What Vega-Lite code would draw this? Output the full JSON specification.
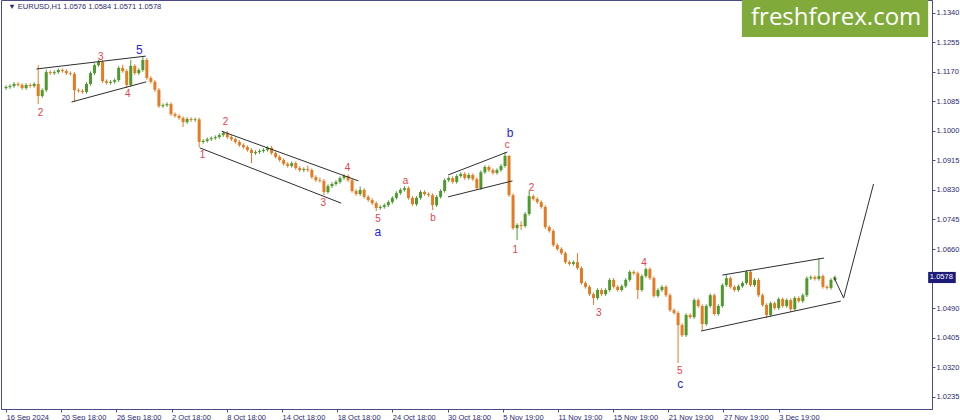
{
 "$schema": "https://vega.github.io/schema/vega-lite/v6.json",
 "width": 931, "height": 409,
 "autosize": {"type": "none"},
 "padding": {"left": 1, "top": 0, "right": 28, "bottom": 11},
 "background": "white",
 "config": {"view": {"stroke": "#4a4a86", "strokeWidth": 1}, "font": "Liberation Sans",
   "axis": {"labelOverlap": false, "labelBound": false, "labelFlush": false, "grid": false, "title": null,
     "labelFontSize": 7.5, "labelColor": "#2b2b70", "labelFont": "Liberation Sans", "tickSize": 3, "tickColor": "#4a4a86", "domainColor": "#4a4a86", "labelPadding": 1}},
 "resolve": {"axis": {"x": "independent", "y": "independent"}},
 "datasets": {
  "candles": [
{"t":0,"o":1.1123,"h":1.1131,"l":1.1118,"c":1.1126},
{"t":7,"o":1.1126,"h":1.1134,"l":1.1121,"c":1.1129},
{"t":14,"o":1.1129,"h":1.1140,"l":1.1124,"c":1.1135},
{"t":21,"o":1.1135,"h":1.1140,"l":1.1127,"c":1.1132},
{"t":28,"o":1.1132,"h":1.1137,"l":1.1118,"c":1.1123},
{"t":35,"o":1.1123,"h":1.1137,"l":1.1118,"c":1.1132},
{"t":42,"o":1.1132,"h":1.1137,"l":1.1124,"c":1.1129},
{"t":49,"o":1.1129,"h":1.1140,"l":1.1124,"c":1.1135},
{"t":56,"o":1.1135,"h":1.1189,"l":1.1077,"c":1.1100},
{"t":63,"o":1.1100,"h":1.1122,"l":1.1095,"c":1.1117},
{"t":70,"o":1.1117,"h":1.1176,"l":1.1112,"c":1.1169},
{"t":77,"o":1.1169,"h":1.1174,"l":1.1161,"c":1.1166},
{"t":84,"o":1.1166,"h":1.1174,"l":1.1161,"c":1.1169},
{"t":91,"o":1.1169,"h":1.1180,"l":1.1164,"c":1.1175},
{"t":98,"o":1.1175,"h":1.1180,"l":1.1167,"c":1.1172},
{"t":105,"o":1.1172,"h":1.1177,"l":1.1161,"c":1.1166},
{"t":112,"o":1.1166,"h":1.1171,"l":1.1159,"c":1.1164},
{"t":119,"o":1.1164,"h":1.1169,"l":1.1083,"c":1.1117},
{"t":126,"o":1.1117,"h":1.1122,"l":1.1110,"c":1.1115},
{"t":133,"o":1.1115,"h":1.1120,"l":1.1107,"c":1.1112},
{"t":140,"o":1.1112,"h":1.1140,"l":1.1107,"c":1.1135},
{"t":147,"o":1.1135,"h":1.1171,"l":1.1130,"c":1.1166},
{"t":154,"o":1.1166,"h":1.1194,"l":1.1161,"c":1.1189},
{"t":161,"o":1.1189,"h":1.1204,"l":1.1184,"c":1.1198},
{"t":168,"o":1.1198,"h":1.1203,"l":1.1138,"c":1.1143},
{"t":175,"o":1.1143,"h":1.1148,"l":1.1133,"c":1.1138},
{"t":182,"o":1.1138,"h":1.1146,"l":1.1133,"c":1.1141},
{"t":189,"o":1.1141,"h":1.1151,"l":1.1136,"c":1.1146},
{"t":196,"o":1.1146,"h":1.1186,"l":1.1141,"c":1.1181},
{"t":203,"o":1.1181,"h":1.1190,"l":1.1167,"c":1.1172},
{"t":210,"o":1.1172,"h":1.1177,"l":1.1123,"c":1.1132},
{"t":217,"o":1.1132,"h":1.1204,"l":1.1127,"c":1.1187},
{"t":224,"o":1.1187,"h":1.1192,"l":1.1161,"c":1.1166},
{"t":231,"o":1.1166,"h":1.1180,"l":1.1161,"c":1.1175},
{"t":238,"o":1.1175,"h":1.1215,"l":1.1170,"c":1.1204},
{"t":245,"o":1.1204,"h":1.1209,"l":1.1147,"c":1.1152},
{"t":252,"o":1.1152,"h":1.1157,"l":1.1136,"c":1.1141},
{"t":259,"o":1.1141,"h":1.1146,"l":1.1112,"c":1.1118},
{"t":266,"o":1.1118,"h":1.1123,"l":1.1066,"c":1.1071},
{"t":273,"o":1.1071,"h":1.1079,"l":1.1066,"c":1.1074},
{"t":280,"o":1.1074,"h":1.1082,"l":1.1069,"c":1.1077},
{"t":287,"o":1.1077,"h":1.1082,"l":1.1043,"c":1.1048},
{"t":294,"o":1.1048,"h":1.1053,"l":1.1038,"c":1.1043},
{"t":301,"o":1.1043,"h":1.1048,"l":1.1032,"c":1.1037},
{"t":308,"o":1.1037,"h":1.1042,"l":1.1011,"c":1.1025},
{"t":315,"o":1.1025,"h":1.1039,"l":1.1020,"c":1.1034},
{"t":322,"o":1.1034,"h":1.1039,"l":1.1026,"c":1.1031},
{"t":329,"o":1.1031,"h":1.1038,"l":1.1026,"c":1.1033},
{"t":336,"o":1.1033,"h":1.1038,"l":1.0953,"c":1.0968},
{"t":343,"o":1.0968,"h":1.0976,"l":1.0963,"c":1.0971},
{"t":350,"o":1.0971,"h":1.0981,"l":1.0966,"c":1.0976},
{"t":357,"o":1.0976,"h":1.0984,"l":1.0971,"c":1.0979},
{"t":364,"o":1.0979,"h":1.0987,"l":1.0974,"c":1.0982},
{"t":371,"o":1.0982,"h":1.0993,"l":1.0977,"c":1.0988},
{"t":378,"o":1.0988,"h":1.0999,"l":1.0983,"c":1.0994},
{"t":385,"o":1.0994,"h":1.0999,"l":1.0977,"c":1.0982},
{"t":392,"o":1.0982,"h":1.0987,"l":1.0971,"c":1.0976},
{"t":399,"o":1.0976,"h":1.0981,"l":1.0963,"c":1.0968},
{"t":406,"o":1.0968,"h":1.0973,"l":1.0954,"c":1.0959},
{"t":413,"o":1.0959,"h":1.0964,"l":1.0948,"c":1.0953},
{"t":420,"o":1.0953,"h":1.0958,"l":1.0940,"c":1.0945},
{"t":427,"o":1.0945,"h":1.0950,"l":1.0907,"c":1.0936},
{"t":434,"o":1.0936,"h":1.0944,"l":1.0931,"c":1.0939},
{"t":441,"o":1.0939,"h":1.0947,"l":1.0934,"c":1.0942},
{"t":448,"o":1.0942,"h":1.0950,"l":1.0937,"c":1.0945},
{"t":455,"o":1.0945,"h":1.0956,"l":1.0940,"c":1.0951},
{"t":462,"o":1.0951,"h":1.0956,"l":1.0931,"c":1.0936},
{"t":469,"o":1.0936,"h":1.0941,"l":1.0920,"c":1.0925},
{"t":476,"o":1.0925,"h":1.0930,"l":1.0911,"c":1.0916},
{"t":483,"o":1.0916,"h":1.0921,"l":1.0900,"c":1.0905},
{"t":490,"o":1.0905,"h":1.0910,"l":1.0894,"c":1.0899},
{"t":497,"o":1.0899,"h":1.0912,"l":1.0894,"c":1.0907},
{"t":504,"o":1.0907,"h":1.0912,"l":1.0888,"c":1.0893},
{"t":511,"o":1.0893,"h":1.0898,"l":1.0882,"c":1.0887},
{"t":518,"o":1.0887,"h":1.0895,"l":1.0882,"c":1.0890},
{"t":525,"o":1.0890,"h":1.0900,"l":1.0882,"c":1.0887},
{"t":532,"o":1.0887,"h":1.0892,"l":1.0862,"c":1.0867},
{"t":539,"o":1.0867,"h":1.0872,"l":1.0853,"c":1.0858},
{"t":546,"o":1.0858,"h":1.0866,"l":1.0851,"c":1.0856},
{"t":553,"o":1.0856,"h":1.0861,"l":1.0815,"c":1.0824},
{"t":560,"o":1.0824,"h":1.0846,"l":1.0819,"c":1.0841},
{"t":567,"o":1.0841,"h":1.0852,"l":1.0836,"c":1.0847},
{"t":574,"o":1.0847,"h":1.0858,"l":1.0842,"c":1.0853},
{"t":581,"o":1.0853,"h":1.0869,"l":1.0848,"c":1.0864},
{"t":588,"o":1.0864,"h":1.0875,"l":1.0859,"c":1.0870},
{"t":595,"o":1.0870,"h":1.0875,"l":1.0853,"c":1.0858},
{"t":602,"o":1.0858,"h":1.0863,"l":1.0822,"c":1.0827},
{"t":609,"o":1.0827,"h":1.0832,"l":1.0813,"c":1.0818},
{"t":616,"o":1.0818,"h":1.0840,"l":1.0813,"c":1.0830},
{"t":623,"o":1.0830,"h":1.0835,"l":1.0805,"c":1.0810},
{"t":630,"o":1.0810,"h":1.0815,"l":1.0796,"c":1.0801},
{"t":637,"o":1.0801,"h":1.0806,"l":1.0787,"c":1.0792},
{"t":644,"o":1.0792,"h":1.0797,"l":1.0769,"c":1.0778},
{"t":651,"o":1.0778,"h":1.0786,"l":1.0773,"c":1.0781},
{"t":658,"o":1.0781,"h":1.0791,"l":1.0776,"c":1.0786},
{"t":665,"o":1.0786,"h":1.0800,"l":1.0781,"c":1.0795},
{"t":672,"o":1.0795,"h":1.0812,"l":1.0790,"c":1.0807},
{"t":679,"o":1.0807,"h":1.0826,"l":1.0802,"c":1.0821},
{"t":686,"o":1.0821,"h":1.0835,"l":1.0816,"c":1.0830},
{"t":693,"o":1.0830,"h":1.0841,"l":1.0825,"c":1.0835},
{"t":700,"o":1.0835,"h":1.0840,"l":1.0802,"c":1.0807},
{"t":707,"o":1.0807,"h":1.0812,"l":1.0784,"c":1.0789},
{"t":714,"o":1.0789,"h":1.0812,"l":1.0784,"c":1.0807},
{"t":721,"o":1.0807,"h":1.0829,"l":1.0802,"c":1.0824},
{"t":728,"o":1.0824,"h":1.0829,"l":1.0813,"c":1.0818},
{"t":735,"o":1.0818,"h":1.0823,"l":1.0810,"c":1.0815},
{"t":742,"o":1.0815,"h":1.0820,"l":1.0772,"c":1.0786},
{"t":749,"o":1.0786,"h":1.0815,"l":1.0781,"c":1.0810},
{"t":756,"o":1.0810,"h":1.0832,"l":1.0805,"c":1.0827},
{"t":763,"o":1.0827,"h":1.0863,"l":1.0822,"c":1.0858},
{"t":770,"o":1.0858,"h":1.0869,"l":1.0853,"c":1.0864},
{"t":777,"o":1.0864,"h":1.0869,"l":1.0848,"c":1.0853},
{"t":784,"o":1.0853,"h":1.0875,"l":1.0848,"c":1.0870},
{"t":791,"o":1.0870,"h":1.0881,"l":1.0865,"c":1.0876},
{"t":798,"o":1.0876,"h":1.0881,"l":1.0859,"c":1.0864},
{"t":805,"o":1.0864,"h":1.0878,"l":1.0859,"c":1.0873},
{"t":812,"o":1.0873,"h":1.0878,"l":1.0856,"c":1.0861},
{"t":819,"o":1.0861,"h":1.0866,"l":1.0830,"c":1.0835},
{"t":826,"o":1.0835,"h":1.0886,"l":1.0830,"c":1.0881},
{"t":833,"o":1.0881,"h":1.0901,"l":1.0876,"c":1.0896},
{"t":840,"o":1.0896,"h":1.0901,"l":1.0882,"c":1.0887},
{"t":847,"o":1.0887,"h":1.0892,"l":1.0874,"c":1.0879},
{"t":854,"o":1.0879,"h":1.0892,"l":1.0874,"c":1.0887},
{"t":861,"o":1.0887,"h":1.0904,"l":1.0882,"c":1.0899},
{"t":868,"o":1.0899,"h":1.0939,"l":1.0894,"c":1.0928},
{"t":875,"o":1.0928,"h":1.0930,"l":1.0810,"c":1.0815},
{"t":882,"o":1.0815,"h":1.0820,"l":1.0715,"c":1.0720},
{"t":889,"o":1.0720,"h":1.0734,"l":1.0686,"c":1.0729},
{"t":896,"o":1.0729,"h":1.0740,"l":1.0715,"c":1.0726},
{"t":903,"o":1.0726,"h":1.0766,"l":1.0721,"c":1.0761},
{"t":910,"o":1.0761,"h":1.0827,"l":1.0756,"c":1.0812},
{"t":917,"o":1.0812,"h":1.0817,"l":1.0799,"c":1.0804},
{"t":924,"o":1.0804,"h":1.0809,"l":1.0790,"c":1.0795},
{"t":931,"o":1.0795,"h":1.0800,"l":1.0776,"c":1.0781},
{"t":938,"o":1.0781,"h":1.0786,"l":1.0718,"c":1.0723},
{"t":945,"o":1.0723,"h":1.0728,"l":1.0707,"c":1.0712},
{"t":952,"o":1.0712,"h":1.0717,"l":1.0666,"c":1.0671},
{"t":959,"o":1.0671,"h":1.0676,"l":1.0655,"c":1.0660},
{"t":966,"o":1.0660,"h":1.0665,"l":1.0643,"c":1.0648},
{"t":973,"o":1.0648,"h":1.0653,"l":1.0617,"c":1.0622},
{"t":980,"o":1.0622,"h":1.0627,"l":1.0612,"c":1.0617},
{"t":987,"o":1.0617,"h":1.0627,"l":1.0612,"c":1.0622},
{"t":994,"o":1.0622,"h":1.0648,"l":1.0600,"c":1.0605},
{"t":1001,"o":1.0605,"h":1.0610,"l":1.0557,"c":1.0562},
{"t":1008,"o":1.0562,"h":1.0567,"l":1.0546,"c":1.0551},
{"t":1015,"o":1.0551,"h":1.0556,"l":1.0525,"c":1.0530},
{"t":1022,"o":1.0530,"h":1.0535,"l":1.0499,"c":1.0519},
{"t":1029,"o":1.0519,"h":1.0547,"l":1.0514,"c":1.0542},
{"t":1036,"o":1.0542,"h":1.0547,"l":1.0525,"c":1.0530},
{"t":1043,"o":1.0530,"h":1.0547,"l":1.0525,"c":1.0542},
{"t":1050,"o":1.0542,"h":1.0576,"l":1.0537,"c":1.0571},
{"t":1057,"o":1.0571,"h":1.0576,"l":1.0546,"c":1.0551},
{"t":1064,"o":1.0551,"h":1.0556,"l":1.0537,"c":1.0542},
{"t":1071,"o":1.0542,"h":1.0558,"l":1.0537,"c":1.0553},
{"t":1078,"o":1.0553,"h":1.0576,"l":1.0548,"c":1.0571},
{"t":1085,"o":1.0571,"h":1.0599,"l":1.0566,"c":1.0594},
{"t":1092,"o":1.0594,"h":1.0599,"l":1.0585,"c":1.0590},
{"t":1099,"o":1.0590,"h":1.0595,"l":1.0516,"c":1.0542},
{"t":1106,"o":1.0542,"h":1.0587,"l":1.0537,"c":1.0582},
{"t":1113,"o":1.0582,"h":1.0607,"l":1.0577,"c":1.0602},
{"t":1120,"o":1.0602,"h":1.0607,"l":1.0571,"c":1.0576},
{"t":1127,"o":1.0576,"h":1.0581,"l":1.0520,"c":1.0525},
{"t":1134,"o":1.0525,"h":1.0547,"l":1.0520,"c":1.0542},
{"t":1141,"o":1.0542,"h":1.0556,"l":1.0537,"c":1.0551},
{"t":1148,"o":1.0551,"h":1.0556,"l":1.0522,"c":1.0527},
{"t":1155,"o":1.0527,"h":1.0532,"l":1.0479,"c":1.0484},
{"t":1162,"o":1.0484,"h":1.0489,"l":1.0471,"c":1.0476},
{"t":1169,"o":1.0476,"h":1.0481,"l":1.0332,"c":1.0441},
{"t":1176,"o":1.0441,"h":1.0446,"l":1.0407,"c":1.0412},
{"t":1183,"o":1.0412,"h":1.0475,"l":1.0407,"c":1.0470},
{"t":1190,"o":1.0470,"h":1.0475,"l":1.0459,"c":1.0464},
{"t":1197,"o":1.0464,"h":1.0518,"l":1.0459,"c":1.0513},
{"t":1204,"o":1.0513,"h":1.0518,"l":1.0491,"c":1.0496},
{"t":1211,"o":1.0496,"h":1.0501,"l":1.0427,"c":1.0444},
{"t":1218,"o":1.0444,"h":1.0501,"l":1.0439,"c":1.0496},
{"t":1225,"o":1.0496,"h":1.0532,"l":1.0491,"c":1.0527},
{"t":1232,"o":1.0527,"h":1.0532,"l":1.0468,"c":1.0473},
{"t":1239,"o":1.0473,"h":1.0501,"l":1.0468,"c":1.0496},
{"t":1246,"o":1.0496,"h":1.0561,"l":1.0491,"c":1.0556},
{"t":1253,"o":1.0556,"h":1.0585,"l":1.0551,"c":1.0576},
{"t":1260,"o":1.0576,"h":1.0581,"l":1.0546,"c":1.0551},
{"t":1267,"o":1.0551,"h":1.0556,"l":1.0537,"c":1.0542},
{"t":1274,"o":1.0542,"h":1.0558,"l":1.0537,"c":1.0553},
{"t":1281,"o":1.0553,"h":1.0567,"l":1.0548,"c":1.0562},
{"t":1288,"o":1.0562,"h":1.0599,"l":1.0557,"c":1.0594},
{"t":1295,"o":1.0594,"h":1.0599,"l":1.0551,"c":1.0556},
{"t":1302,"o":1.0556,"h":1.0576,"l":1.0551,"c":1.0571},
{"t":1309,"o":1.0571,"h":1.0576,"l":1.0522,"c":1.0527},
{"t":1316,"o":1.0527,"h":1.0532,"l":1.0494,"c":1.0499},
{"t":1323,"o":1.0499,"h":1.0504,"l":1.0461,"c":1.0470},
{"t":1330,"o":1.0470,"h":1.0509,"l":1.0465,"c":1.0504},
{"t":1337,"o":1.0504,"h":1.0509,"l":1.0485,"c":1.0490},
{"t":1344,"o":1.0490,"h":1.0521,"l":1.0485,"c":1.0516},
{"t":1351,"o":1.0516,"h":1.0521,"l":1.0491,"c":1.0496},
{"t":1358,"o":1.0496,"h":1.0518,"l":1.0491,"c":1.0513},
{"t":1365,"o":1.0513,"h":1.0518,"l":1.0479,"c":1.0487},
{"t":1372,"o":1.0487,"h":1.0524,"l":1.0482,"c":1.0519},
{"t":1379,"o":1.0519,"h":1.0524,"l":1.0505,"c":1.0510},
{"t":1386,"o":1.0510,"h":1.0532,"l":1.0505,"c":1.0527},
{"t":1393,"o":1.0527,"h":1.0581,"l":1.0522,"c":1.0576},
{"t":1400,"o":1.0576,"h":1.0584,"l":1.0571,"c":1.0579},
{"t":1407,"o":1.0579,"h":1.0584,"l":1.0569,"c":1.0574},
{"t":1414,"o":1.0574,"h":1.0634,"l":1.0569,"c":1.0582},
{"t":1421,"o":1.0582,"h":1.0587,"l":1.0546,"c":1.0551},
{"t":1428,"o":1.0551,"h":1.0556,"l":1.0543,"c":1.0548},
{"t":1435,"o":1.0548,"h":1.0576,"l":1.0543,"c":1.0571},
{"t":1442,"o":1.0571,"h":1.0584,"l":1.0566,"c":1.0578}
  ],
  "lines": [
{"id":"w1top","t":53,"p":1.1178},{"id":"w1top","t":243,"p":1.1215},
{"id":"w1bot","t":114,"p":1.1083},{"id":"w1bot","t":244,"p":1.1141},
{"id":"dtop","t":375,"p":1.0999},{"id":"dtop","t":613,"p":1.0856},
{"id":"dbot","t":337,"p":1.0951},{"id":"dbot","t":583,"p":1.0792},
{"id":"btop","t":769,"p":1.0873},{"id":"btop","t":872,"p":1.0939},
{"id":"bbot","t":769,"p":1.0810},{"id":"bbot","t":881,"p":1.0856},
{"id":"ftop","t":1246,"p":1.0585},{"id":"ftop","t":1423,"p":1.0634},
{"id":"fbot","t":1209,"p":1.0424},{"id":"fbot","t":1452,"p":1.0510},
{"id":"proj","t":1440,"p":1.0579},{"id":"proj","t":1457,"p":1.0519},{"id":"proj","t":1509,"p":1.0847}
  ],
  "labels": [
{"txt":"2","t":60,"p":1.1051,"deg":"minor"},
{"txt":"3","t":165,"p":1.1212,"deg":"minor"},
{"txt":"4","t":212,"p":1.1106,"deg":"minor"},
{"txt":"5","t":232,"p":1.1233,"deg":"major"},
{"txt":"1","t":342,"p":1.0930,"deg":"minor"},
{"txt":"2","t":382,"p":1.1025,"deg":"minor"},
{"txt":"3","t":552,"p":1.0792,"deg":"minor"},
{"txt":"4","t":594,"p":1.0893,"deg":"minor"},
{"txt":"5","t":647,"p":1.0747,"deg":"minor"},
{"txt":"a","t":647,"p":1.0709,"deg":"major"},
{"txt":"a","t":695,"p":1.0856,"deg":"minor"},
{"txt":"b","t":743,"p":1.0749,"deg":"minor"},
{"txt":"c","t":872,"p":1.0959,"deg":"minor"},
{"txt":"b","t":877,"p":1.0993,"deg":"major"},
{"txt":"1","t":886,"p":1.0657,"deg":"minor"},
{"txt":"2","t":914,"p":1.0835,"deg":"minor"},
{"txt":"3","t":1031,"p":1.0476,"deg":"minor"},
{"txt":"4","t":1110,"p":1.0620,"deg":"minor"},
{"txt":"5","t":1172,"p":1.0308,"deg":"minor"},
{"txt":"c","t":1173,"p":1.0271,"deg":"major"}
  ]
 },
 "layer": [
  {
   "data": {"name": "candles"},
   "mark": {"type": "rule", "strokeWidth": 1},
   "encoding": {
    "x": {"field": "t", "type": "quantitative", "scale": {"domain": [0, 1602], "nice": false, "zero": false},
      "axis": {"orient": "bottom", "values": [0,96,192,288,384,480,576,672,768,864,960,1056,1152,1248,1344],
        "labelExpr": "['16 Sep 2024','20 Sep 18:00','26 Sep 18:00','2 Oct 18:00','8 Oct 18:00','14 Oct 18:00','18 Oct 18:00','24 Oct 18:00','30 Oct 18:00','5 Nov 19:00','11 Nov 19:00','15 Nov 19:00','21 Nov 19:00','27 Nov 19:00','3 Dec 19:00'][round(datum.value/96)]",
        "labelAlign": "left", "labelOverlap": false}},
    "y": {"field": "l", "type": "quantitative", "scale": {"domain": [1.01996, 1.13765], "nice": false, "zero": false},
      "axis": {"orient": "right", "values": [1.134,1.1255,1.117,1.1085,1.1,1.0915,1.083,1.0745,1.066,1.049,1.0405,1.032,1.0235], "format": ".4f", "labelOverlap": false}},
    "y2": {"field": "h"},
    "color": {"condition": {"test": "datum.c >= datum.o", "value": "#4e9a2e"}, "value": "#e57a22"}
   }
  },
  {
   "mark": {"type": "rule", "color": "#d2d2d2", "strokeWidth": 1},
   "encoding": {"y": {"datum": 1.0578, "type": "quantitative", "scale": {"domain": [1.01996, 1.13765], "nice": false, "zero": false}, "axis": null}}
  },
  {
   "data": {"name": "candles"},
   "mark": {"type": "bar", "size": 3},
   "encoding": {
    "x": {"field": "t", "type": "quantitative", "scale": {"domain": [0, 1602], "nice": false, "zero": false}, "axis": null},
    "y": {"field": "o", "type": "quantitative", "scale": {"domain": [1.01996, 1.13765], "nice": false, "zero": false}, "axis": null},
    "y2": {"field": "c"},
    "color": {"condition": {"test": "datum.c >= datum.o", "value": "#4e9a2e"}, "value": "#e57a22"}
   }
  },
  {
   "data": {"name": "lines"},
   "mark": {"type": "line", "color": "#2e2e2e", "strokeWidth": 1},
   "encoding": {
    "x": {"field": "t", "type": "quantitative", "scale": {"domain": [0, 1602], "nice": false, "zero": false}, "axis": null},
    "y": {"field": "p", "type": "quantitative", "scale": {"domain": [1.01996, 1.13765], "nice": false, "zero": false}, "axis": null},
    "detail": {"field": "id"}
   }
  },
  {
   "data": {"name": "labels"},
   "transform": [{"filter": "datum.deg == 'minor'"}],
   "mark": {"type": "text", "color": "#e8424a", "fontSize": 10, "font": "Liberation Sans", "align": "center", "baseline": "middle"},
   "encoding": {
    "x": {"field": "t", "type": "quantitative", "scale": {"domain": [0, 1602], "nice": false, "zero": false}, "axis": null},
    "y": {"field": "p", "type": "quantitative", "scale": {"domain": [1.01996, 1.13765], "nice": false, "zero": false}, "axis": null},
    "text": {"field": "txt"}
   }
  },
  {
   "data": {"name": "labels"},
   "transform": [{"filter": "datum.deg == 'major'"}],
   "mark": {"type": "text", "color": "#2626d6", "fontSize": 12, "font": "Liberation Sans", "align": "center", "baseline": "middle"},
   "encoding": {
    "x": {"field": "t", "type": "quantitative", "scale": {"domain": [0, 1602], "nice": false, "zero": false}, "axis": null},
    "y": {"field": "p", "type": "quantitative", "scale": {"domain": [1.01996, 1.13765], "nice": false, "zero": false}, "axis": null},
    "text": {"field": "txt"}
   }
  },
  {
   "data": {"values": [{"x1": 1280, "x2": 1604, "y1": 1.13765, "y2": 1.1270}]},
   "mark": {"type": "rect", "color": "#80ab3b"},
   "encoding": {
    "x": {"field": "x1", "type": "quantitative", "scale": {"domain": [0, 1602], "nice": false, "zero": false}, "axis": null},
    "x2": {"field": "x2"},
    "y": {"field": "y1", "type": "quantitative", "scale": {"domain": [1.01996, 1.13765], "nice": false, "zero": false}, "axis": null},
    "y2": {"field": "y2"}
   }
  },
  {
   "data": {"values": [{"txt": "freshforex.com", "x": 1444, "y": 1.1325}]},
   "mark": {"type": "text", "color": "white", "font": "Open Sans", "fontSize": 24, "align": "center", "baseline": "middle"},
   "encoding": {
    "x": {"field": "x", "type": "quantitative", "scale": {"domain": [0, 1602], "nice": false, "zero": false}, "axis": null},
    "y": {"field": "y", "type": "quantitative", "scale": {"domain": [1.01996, 1.13765], "nice": false, "zero": false}, "axis": null},
    "text": {"field": "txt"}
   }
  },
  {
   "data": {"values": [{"txt": "▼ EURUSD,H1  1.0576 1.0584 1.0571 1.0578", "x": 4, "y": 1.1356}]},
   "mark": {"type": "text", "color": "#2b2b70", "fontSize": 7.5, "font": "Liberation Sans", "align": "left", "baseline": "middle"},
   "encoding": {
    "x": {"field": "x", "type": "quantitative", "scale": {"domain": [0, 1602], "nice": false, "zero": false}, "axis": null},
    "y": {"field": "y", "type": "quantitative", "scale": {"domain": [1.01996, 1.13765], "nice": false, "zero": false}, "axis": null},
    "text": {"field": "txt"}
   }
  },
  {
   "data": {"values": [{"x1": 1604, "x2": 1652, "y1": 1.0594, "y2": 1.0562}]},
   "mark": {"type": "rect", "color": "#1c1c78"},
   "encoding": {
    "x": {"field": "x1", "type": "quantitative", "scale": {"domain": [0, 1602], "nice": false, "zero": false}, "axis": null},
    "x2": {"field": "x2"},
    "y": {"field": "y1", "type": "quantitative", "scale": {"domain": [1.01996, 1.13765], "nice": false, "zero": false}, "axis": null},
    "y2": {"field": "y2"}
   }
  },
  {
   "data": {"values": [{"txt": "1.0578", "x": 1607, "y": 1.0578}]},
   "mark": {"type": "text", "color": "white", "fontSize": 7.5, "font": "Liberation Sans", "align": "left", "baseline": "middle"},
   "encoding": {
    "x": {"field": "x", "type": "quantitative", "scale": {"domain": [0, 1602], "nice": false, "zero": false}, "axis": null},
    "y": {"field": "y", "type": "quantitative", "scale": {"domain": [1.01996, 1.13765], "nice": false, "zero": false}, "axis": null},
    "text": {"field": "txt"}
   }
  }
 ]
}
